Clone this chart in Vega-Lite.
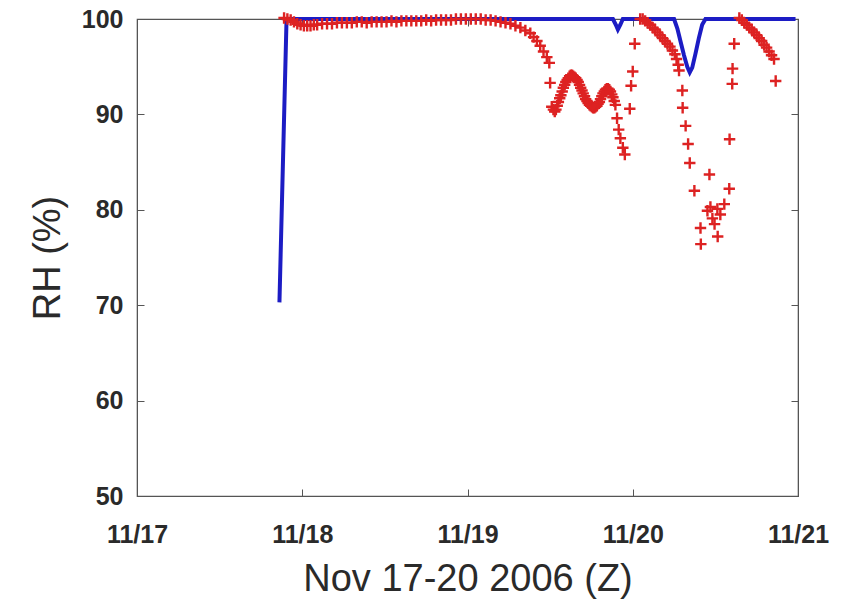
{
  "$schema": "https://vega.github.io/schema/vega-lite/v6.json",
  "width": 661,
  "height": 477,
  "autosize": "none",
  "padding": {"left": 137, "top": 19, "right": 48, "bottom": 113},
  "background": "white",
  "config": {
    "view": {"stroke": "#555", "strokeWidth": 1.2},
    "axis": {
      "labelFont": "Liberation Sans",
      "titleFont": "Liberation Sans",
      "labelFontSize": 25,
      "labelFontWeight": "bold",
      "titleFontSize": 38,
      "labelColor": "#2a2a2a",
      "titleColor": "#2a2a2a",
      "titleFontWeight": "normal",
      "domainColor": "#555",
      "tickColor": "#555",
      "tickSize": -7,
      "grid": false
    }
  },
  "datasets": {
    "blue": [
      {"day": 0.862, "rh": 70.3},
      {"day": 0.905, "rh": 100},
      {"day": 2.88, "rh": 100},
      {"day": 2.9, "rh": 99.3},
      {"day": 2.91, "rh": 98.9},
      {"day": 2.925, "rh": 99.4},
      {"day": 2.94, "rh": 100},
      {"day": 3.25, "rh": 100},
      {"day": 3.27, "rh": 99.0},
      {"day": 3.29, "rh": 97.6},
      {"day": 3.31, "rh": 96.2},
      {"day": 3.33, "rh": 95.0},
      {"day": 3.345, "rh": 94.4},
      {"day": 3.36, "rh": 94.9},
      {"day": 3.38, "rh": 96.4},
      {"day": 3.4, "rh": 98.0},
      {"day": 3.42, "rh": 99.4},
      {"day": 3.44, "rh": 100},
      {"day": 3.985, "rh": 100}
    ],
    "red": [
      {"day": 0.89, "rh": 100.1}, {"day": 0.91, "rh": 100.0}, {"day": 0.93, "rh": 99.9},
      {"day": 0.95, "rh": 99.7}, {"day": 0.97, "rh": 99.5}, {"day": 0.99, "rh": 99.4},
      {"day": 1.01, "rh": 99.3}, {"day": 1.03, "rh": 99.3}, {"day": 1.05, "rh": 99.3},
      {"day": 1.07, "rh": 99.4}, {"day": 1.09, "rh": 99.4}, {"day": 1.12, "rh": 99.5},
      {"day": 1.15, "rh": 99.5}, {"day": 1.18, "rh": 99.5}, {"day": 1.21, "rh": 99.6},
      {"day": 1.24, "rh": 99.6}, {"day": 1.27, "rh": 99.6}, {"day": 1.3, "rh": 99.6},
      {"day": 1.33, "rh": 99.7}, {"day": 1.36, "rh": 99.7}, {"day": 1.39, "rh": 99.6},
      {"day": 1.42, "rh": 99.7}, {"day": 1.45, "rh": 99.7}, {"day": 1.48, "rh": 99.7},
      {"day": 1.51, "rh": 99.7}, {"day": 1.54, "rh": 99.8}, {"day": 1.57, "rh": 99.7},
      {"day": 1.6, "rh": 99.8}, {"day": 1.63, "rh": 99.8}, {"day": 1.66, "rh": 99.8},
      {"day": 1.69, "rh": 99.8}, {"day": 1.72, "rh": 99.8}, {"day": 1.75, "rh": 99.9},
      {"day": 1.78, "rh": 99.8}, {"day": 1.81, "rh": 99.9}, {"day": 1.84, "rh": 99.9},
      {"day": 1.87, "rh": 99.9}, {"day": 1.9, "rh": 99.9}, {"day": 1.93, "rh": 100.0},
      {"day": 1.96, "rh": 100.0}, {"day": 1.99, "rh": 100.0}, {"day": 2.02, "rh": 100.0},
      {"day": 2.05, "rh": 100.0}, {"day": 2.08, "rh": 100.0}, {"day": 2.11, "rh": 99.9},
      {"day": 2.14, "rh": 99.9}, {"day": 2.17, "rh": 99.8}, {"day": 2.2, "rh": 99.7},
      {"day": 2.23, "rh": 99.6}, {"day": 2.26, "rh": 99.5}, {"day": 2.29, "rh": 99.3},
      {"day": 2.32, "rh": 99.1}, {"day": 2.35, "rh": 98.8}, {"day": 2.38, "rh": 98.5},
      {"day": 2.4, "rh": 98.1}, {"day": 2.42, "rh": 97.7}, {"day": 2.44, "rh": 97.2},
      {"day": 2.46, "rh": 96.6}, {"day": 2.48, "rh": 96.0}, {"day": 2.495, "rh": 95.4},
      {"day": 2.5, "rh": 93.3}, {"day": 2.51, "rh": 90.8},
      {"day": 2.52, "rh": 90.5}, {"day": 2.528, "rh": 90.3}, {"day": 2.535, "rh": 90.5},
      {"day": 2.543, "rh": 90.9}, {"day": 2.55, "rh": 91.3}, {"day": 2.558, "rh": 91.7},
      {"day": 2.565, "rh": 92.0}, {"day": 2.573, "rh": 92.4}, {"day": 2.58, "rh": 92.8},
      {"day": 2.588, "rh": 93.1}, {"day": 2.595, "rh": 93.4}, {"day": 2.603, "rh": 93.6},
      {"day": 2.61, "rh": 93.8}, {"day": 2.618, "rh": 94.0}, {"day": 2.625, "rh": 94.1},
      {"day": 2.633, "rh": 94.1}, {"day": 2.64, "rh": 94.0}, {"day": 2.648, "rh": 93.9},
      {"day": 2.655, "rh": 93.8}, {"day": 2.663, "rh": 93.6}, {"day": 2.67, "rh": 93.4},
      {"day": 2.678, "rh": 93.1}, {"day": 2.685, "rh": 92.8}, {"day": 2.693, "rh": 92.5},
      {"day": 2.7, "rh": 92.2}, {"day": 2.708, "rh": 91.9}, {"day": 2.715, "rh": 91.6},
      {"day": 2.723, "rh": 91.4}, {"day": 2.73, "rh": 91.2}, {"day": 2.738, "rh": 91.0},
      {"day": 2.745, "rh": 90.9}, {"day": 2.753, "rh": 90.8}, {"day": 2.76, "rh": 90.7},
      {"day": 2.768, "rh": 90.7}, {"day": 2.775, "rh": 90.8}, {"day": 2.783, "rh": 90.9},
      {"day": 2.79, "rh": 91.1}, {"day": 2.798, "rh": 91.3}, {"day": 2.805, "rh": 91.6},
      {"day": 2.813, "rh": 91.9}, {"day": 2.82, "rh": 92.2}, {"day": 2.828, "rh": 92.4},
      {"day": 2.835, "rh": 92.6}, {"day": 2.843, "rh": 92.7}, {"day": 2.85, "rh": 92.7},
      {"day": 2.858, "rh": 92.6}, {"day": 2.865, "rh": 92.4}, {"day": 2.873, "rh": 92.1},
      {"day": 2.88, "rh": 91.8}, {"day": 2.888, "rh": 91.4}, {"day": 2.895, "rh": 91.0},
      {"day": 2.905, "rh": 89.6}, {"day": 2.915, "rh": 88.4}, {"day": 2.925, "rh": 87.5},
      {"day": 2.94, "rh": 86.5}, {"day": 2.952, "rh": 85.8}, {"day": 2.982, "rh": 90.6},
      {"day": 2.99, "rh": 93.0}, {"day": 3.0, "rh": 94.5}, {"day": 3.012, "rh": 97.4},
      {"day": 3.045, "rh": 100.0}, {"day": 3.06, "rh": 100.0}, {"day": 3.075, "rh": 99.8},
      {"day": 3.09, "rh": 99.6}, {"day": 3.105, "rh": 99.4}, {"day": 3.12, "rh": 99.1},
      {"day": 3.135, "rh": 98.9}, {"day": 3.15, "rh": 98.6}, {"day": 3.165, "rh": 98.3},
      {"day": 3.18, "rh": 98.0}, {"day": 3.195, "rh": 97.7}, {"day": 3.21, "rh": 97.4},
      {"day": 3.225, "rh": 97.1}, {"day": 3.24, "rh": 96.7}, {"day": 3.255, "rh": 96.3},
      {"day": 3.265, "rh": 95.8}, {"day": 3.275, "rh": 95.2}, {"day": 3.28, "rh": 94.6},
      {"day": 3.3, "rh": 92.5}, {"day": 3.302, "rh": 90.7}, {"day": 3.32, "rh": 88.8},
      {"day": 3.335, "rh": 86.9}, {"day": 3.345, "rh": 84.9}, {"day": 3.373, "rh": 82.0},
      {"day": 3.41, "rh": 78.1}, {"day": 3.412, "rh": 76.4}, {"day": 3.452, "rh": 79.9},
      {"day": 3.464, "rh": 83.7}, {"day": 3.47, "rh": 80.3}, {"day": 3.482, "rh": 79.1},
      {"day": 3.495, "rh": 78.5}, {"day": 3.512, "rh": 80.1}, {"day": 3.514, "rh": 77.2},
      {"day": 3.53, "rh": 79.5}, {"day": 3.554, "rh": 80.6}, {"day": 3.584, "rh": 82.2},
      {"day": 3.586, "rh": 87.4}, {"day": 3.602, "rh": 93.2}, {"day": 3.604, "rh": 94.8},
      {"day": 3.614, "rh": 97.4},
      {"day": 3.645, "rh": 100.1}, {"day": 3.66, "rh": 99.9}, {"day": 3.675, "rh": 99.6},
      {"day": 3.69, "rh": 99.4}, {"day": 3.705, "rh": 99.1}, {"day": 3.72, "rh": 98.9},
      {"day": 3.735, "rh": 98.6}, {"day": 3.75, "rh": 98.3}, {"day": 3.765, "rh": 98.0},
      {"day": 3.78, "rh": 97.7}, {"day": 3.795, "rh": 97.3}, {"day": 3.81, "rh": 97.0},
      {"day": 3.825, "rh": 96.6}, {"day": 3.84, "rh": 96.2}, {"day": 3.855, "rh": 95.8},
      {"day": 3.865, "rh": 93.5}
    ]
  },
  "layer": [
    {
      "data": {"name": "blue"},
      "mark": {"type": "line", "color": "#1c1cc4", "strokeWidth": 4, "clip": false},
      "encoding": {
        "x": {
          "field": "day", "type": "quantitative",
          "scale": {"domain": [0, 4], "nice": false, "zero": false},
          "axis": {
            "orient": "bottom",
            "values": [0, 1, 2, 3, 4],
            "labelExpr": "'11/' + (17 + datum.value)",
            "labelPadding": 33,
            "labelFlush": false,
            "title": "Nov 17-20 2006 (Z)",
            "titlePadding": 13
          }
        },
        "y": {
          "field": "rh", "type": "quantitative",
          "scale": {"domain": [50, 100], "nice": false, "zero": false},
          "axis": {
            "orient": "left",
            "values": [50, 60, 70, 80, 90, 100],
            "labelPadding": 21,
            "labelFlush": false,
            "title": "RH (%)",
            "titlePadding": 14
          }
        }
      }
    },
    {
      "data": {"name": "red"},
      "mark": {
        "type": "point",
        "shape": "M-1,0H1M0,-1V1",
        "size": 130,
        "strokeWidth": 2.4,
        "color": "#dd2222",
        "filled": false,
        "opacity": 1,
        "clip": false
      },
      "encoding": {
        "x": {
          "field": "day", "type": "quantitative",
          "axis": {"orient": "top", "values": [0, 1, 2, 3, 4], "labels": false, "title": null}
        },
        "y": {
          "field": "rh", "type": "quantitative",
          "axis": {"orient": "right", "values": [50, 60, 70, 80, 90, 100], "labels": false, "title": null}
        }
      }
    }
  ],
  "resolve": {"axis": {"x": "independent", "y": "independent"}}
}
